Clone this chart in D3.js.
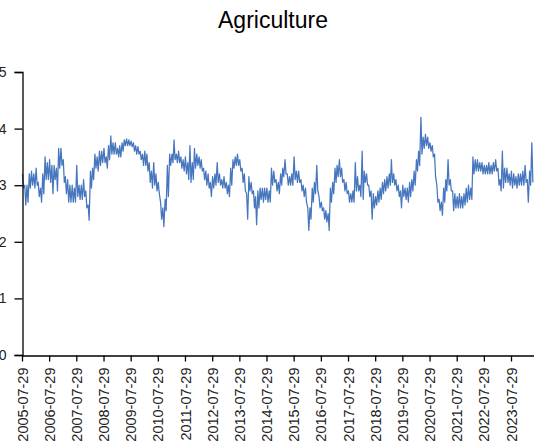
<!DOCTYPE html>
<html>
<head>
<meta charset="utf-8">
<script src="https://cdn.jsdelivr.net/npm/d3@7"></script>
<style>
  html, body { margin: 0; padding: 0; background: #fff; }
  svg { display: block; font-family: "Liberation Sans", Arial, sans-serif; }
</style>
</head>
<body>
<svg id="chart" width="534" height="443"></svg>
<script>
// Monthly high / low readings (Aug 2005 .. May 2024)
const monthHigh = [
  3.2, 3.0, 3.0, 3.2, 3.25, 3.2, 3.3, 3.05, 2.95, 3.2,
  3.5, 3.4, 3.45, 3.35, 3.35, 3.3, 3.65, 3.65, 3.45, 3.15,
  3.1, 3.0, 3.0, 2.95, 3.35, 3.0, 3.0, 3.1, 2.9, 2.65,
  3.25, 3.3, 3.55, 3.5, 3.6, 3.6, 3.65, 3.5, 3.7, 3.87,
  3.75, 3.75, 3.65, 3.7, 3.75, 3.8, 3.82, 3.8, 3.78, 3.75,
  3.7, 3.68, 3.6, 3.55, 3.6, 3.55, 3.4, 3.25, 3.4, 3.2,
  3.05, 2.7, 2.6, 2.75, 3.35, 3.55, 3.55, 3.8, 3.55, 3.6,
  3.5, 3.45, 3.5, 3.4, 3.7, 3.4, 3.65, 3.55, 3.5, 3.45,
  3.3, 3.25, 3.2, 3.05, 3.15, 3.2, 3.4, 3.2, 3.1, 3.15,
  3.05, 3.0, 3.3, 3.45, 3.5, 3.55, 3.45, 3.3, 3.2, 2.85,
  3.15, 3.05, 2.9, 2.8, 2.9, 2.95, 2.95, 2.95, 2.95, 2.9,
  3.3, 3.25, 3.1, 3.05, 3.2, 3.3, 3.45, 3.2, 3.15, 3.2,
  3.5, 3.25, 3.25, 3.1, 3.0, 2.95, 2.6, 2.6, 2.95, 3.05,
  3.35, 2.8, 2.7, 2.6, 2.55, 2.5, 2.95, 3.05, 3.3, 3.35,
  3.45, 3.3, 3.1, 3.05, 2.9, 2.85, 2.9, 3.4, 3.15, 3.0,
  3.6, 3.25, 3.2, 3.0, 2.9, 2.85, 2.8, 2.9, 2.95, 3.05,
  3.1, 3.15, 3.2, 3.45, 3.2, 3.1, 3.0, 2.9, 3.0, 2.95,
  2.95, 3.05, 3.1, 3.25, 3.45, 3.6, 4.2, 3.85, 3.9, 3.85,
  3.75, 3.7, 3.55, 3.0, 2.75, 2.7, 2.95, 3.1, 3.45, 3.1,
  2.9, 2.85, 2.8, 2.85, 2.8, 2.85, 2.95, 3.0, 2.95, 3.5,
  3.45, 3.45, 3.4, 3.4, 3.35, 3.35, 3.4, 3.35, 3.4, 3.45,
  3.3, 3.1, 3.6, 3.3, 3.3, 3.2, 3.25, 3.2, 3.15, 3.2,
  3.2, 3.25, 3.35, 3.1, 3.25, 3.75
];
const monthLow = [
  2.95, 2.65, 2.7, 2.95, 3.0, 2.95, 3.0, 2.8, 2.7, 2.85,
  3.1, 3.1, 3.05, 2.85, 3.1, 2.9, 3.3, 3.35, 3.05, 2.85,
  2.7, 2.7, 2.7, 2.7, 2.8, 2.75, 2.75, 2.8, 2.6, 2.38,
  2.95, 3.1, 3.3, 3.25, 3.35, 3.4, 3.4, 3.3, 3.45, 3.55,
  3.55, 3.55, 3.5, 3.5, 3.6, 3.7, 3.7, 3.7, 3.68, 3.6,
  3.55, 3.55, 3.45, 3.35, 3.35, 3.25, 3.05, 2.95, 3.0, 2.9,
  2.85, 2.4, 2.27, 2.55, 2.8, 3.35, 3.4, 3.45, 3.4, 3.4,
  3.3, 3.25, 3.2, 3.1, 3.05, 3.1, 3.3, 3.35, 3.3, 3.25,
  3.1, 3.0, 2.95, 2.8, 2.95, 3.0, 3.05, 3.0, 2.95, 2.95,
  2.85, 2.8, 3.0, 3.3, 3.35, 3.35, 3.25, 3.05, 2.9, 2.4,
  2.9, 2.85, 2.6, 2.3, 2.6, 2.75, 2.7, 2.75, 2.7, 2.7,
  3.0, 3.05, 2.9, 2.85, 3.0, 3.15, 3.2, 3.0, 3.0, 3.0,
  3.1, 3.05, 3.05, 2.9, 2.8, 2.7, 2.2, 2.4, 2.7, 2.85,
  2.9, 2.6, 2.55, 2.4, 2.35, 2.2, 2.7, 2.85, 3.05, 3.15,
  3.15, 3.05, 2.9, 2.85, 2.7, 2.7, 2.7, 2.9, 2.9, 2.8,
  2.75, 3.05, 3.0, 2.8, 2.4, 2.6, 2.65, 2.7, 2.75, 2.85,
  2.9, 2.95, 3.0, 3.05, 3.0, 2.9, 2.8, 2.6, 2.8, 2.75,
  2.7, 2.8, 2.9, 3.0, 3.25, 3.35, 3.55, 3.65, 3.7, 3.65,
  3.6, 3.5, 3.15, 2.7, 2.55, 2.47, 2.7, 2.9, 3.0, 2.9,
  2.55, 2.6, 2.6, 2.6, 2.6, 2.65, 2.7, 2.75, 2.75, 3.2,
  3.25, 3.25, 3.25, 3.2, 3.2, 3.2, 3.2, 3.2, 3.25, 3.25,
  3.0, 2.9, 2.95, 3.05, 3.05, 3.0, 2.95, 3.0, 2.95, 3.0,
  3.0, 3.0, 3.05, 2.7, 3.0, 3.05
];
const tickLabels = [
  "2005-07-29","2006-07-29","2007-07-29","2008-07-29","2009-07-29",
  "2010-07-29","2011-07-29","2012-07-29","2013-07-29","2014-07-29",
  "2015-07-29","2016-07-29","2017-07-29","2018-07-29","2019-07-29",
  "2020-07-29","2021-07-29","2022-07-29","2023-07-29"
];
const yTicks = [0, 1, 2, 3, 4, 5];
const titleText = "Agriculture";
const startYear = 2005, startMonth = 7; // August 2005 (0-based month)

(function () {
const svg = d3.select("#chart");
const parse = d3.timeParse("%Y-%m-%d");
const tickDates = tickLabels.map(parse);

const plotLeft = 22, plotBottom = 355, plotTop = 72;
const x = d3.scaleTime()
  .domain([parse("2005-07-29"), parse("2024-07-29")])
  .range([plotLeft, plotLeft + 19 * 27.17]);
const y = d3.scaleLinear().domain([0, 5]).range([plotBottom, plotTop]);

// Build points: high then low within each month
const points = [];
monthHigh.forEach((h, i) => {
  points.push({ d: new Date(startYear, startMonth + i, 4), v: h });
  points.push({ d: new Date(startYear, startMonth + i, 18), v: monthLow[i] });
});

// Title
svg.append("text")
  .attr("x", 273).attr("y", 28)
  .attr("text-anchor", "middle")
  .attr("font-size", 23)
  .attr("fill", "#000")
  .text(titleText);

// Line
svg.append("path")
  .datum(points)
  .attr("fill", "none")
  .attr("stroke", "#4676be")
  .attr("stroke-width", 1.25)
  .attr("stroke-linejoin", "round")
  .attr("d", d3.line().x(p => x(p.d)).y(p => y(p.v)));

// Y axis
const yAxis = d3.axisLeft(y).tickValues(yTicks).tickSize(8).tickPadding(8).tickFormat(d3.format("d"));
const gy = svg.append("g").attr("transform", `translate(${plotLeft + 0.5},0)`).call(yAxis);
gy.select(".domain").attr("stroke", "#000").attr("stroke-width", 1.3);
gy.selectAll(".tick line").attr("stroke", "#000").attr("stroke-width", 1.3);
gy.selectAll(".tick text").attr("font-size", 14).attr("fill", "#222")
  .attr("font-family", "'Liberation Sans', Arial, sans-serif");

// X axis
const xAxis = d3.axisBottom(x).tickValues(tickDates).tickSize(6).tickSizeOuter(0)
  .tickFormat((d, i) => tickLabels[i]);
const gx = svg.append("g").attr("transform", `translate(0,${plotBottom + 0.5})`).call(xAxis);
gx.select(".domain").attr("stroke", "#000").attr("stroke-width", 1.3);
gx.selectAll(".tick line").attr("stroke", "#000").attr("stroke-width", 1.3);
gx.selectAll(".tick text")
  .attr("font-size", 14.5).attr("fill", "#222")
  .attr("font-family", "'Liberation Sans', Arial, sans-serif")
  .attr("text-anchor", "end")
  .attr("dy", "0.35em")
  .attr("transform", "translate(0,5) rotate(-90)")
  .attr("x", -7).attr("y", 0);
})();
</script>
</body>
</html>
